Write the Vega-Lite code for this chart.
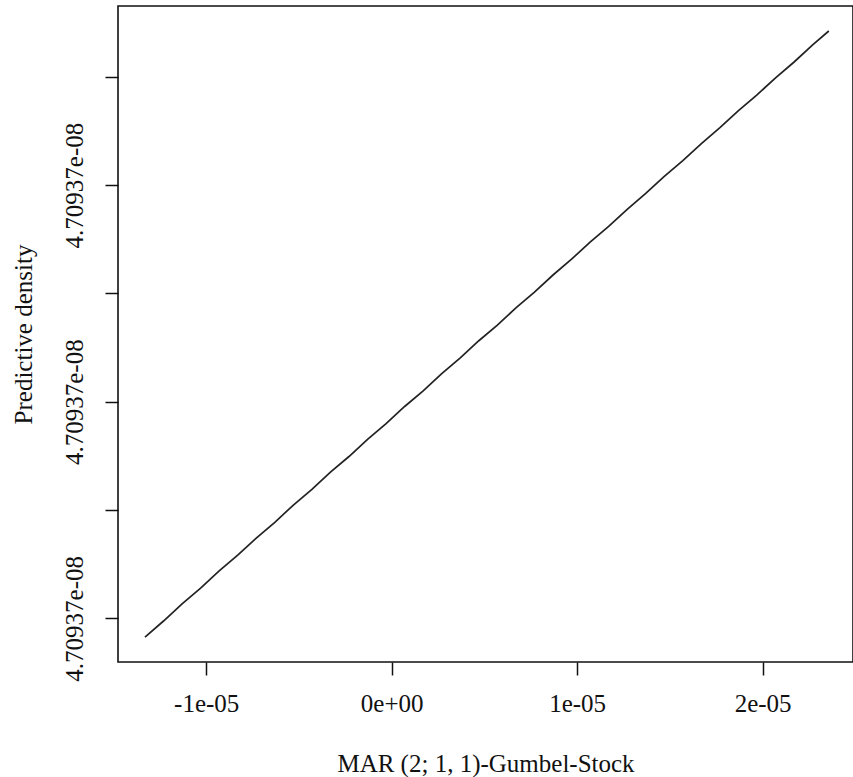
{
  "$schema": "https://vega.github.io/schema/vega-lite/v6.json",
  "width": 735,
  "height": 656,
  "autosize": {"type": "none"},
  "padding": {"left": 118, "top": 6, "right": 0, "bottom": 115},
  "background": "white",
  "config": {
    "font": "Liberation Serif",
    "view": {"stroke": "#111", "strokeWidth": 1.6},
    "axis": {
      "grid": false,
      "domain": false,
      "tickColor": "#111",
      "tickWidth": 1.5,
      "tickSize": 13,
      "labelFont": "Liberation Serif",
      "labelFontSize": 25,
      "labelColor": "#111",
      "titleFont": "Liberation Serif",
      "titleFontSize": 25,
      "titleFontWeight": "normal",
      "titleColor": "#111"
    }
  },
  "data": {
    "values": [
      {"x": -1.33e-05, "density_offset": -0.173},
      {"x": -1.23e-05, "density_offset": -0.025},
      {"x": -1.13e-05, "density_offset": 0.134},
      {"x": -1.03e-05, "density_offset": 0.279},
      {"x": -0.93e-05, "density_offset": 0.437},
      {"x": -0.83e-05, "density_offset": 0.583},
      {"x": -0.73e-05, "density_offset": 0.741},
      {"x": -0.63e-05, "density_offset": 0.886},
      {"x": -0.53e-05, "density_offset": 1.046},
      {"x": -0.43e-05, "density_offset": 1.190},
      {"x": -0.33e-05, "density_offset": 1.349},
      {"x": -0.23e-05, "density_offset": 1.494},
      {"x": -0.13e-05, "density_offset": 1.652},
      {"x": -0.03e-05, "density_offset": 1.798},
      {"x": 0.07e-05, "density_offset": 1.956},
      {"x": 0.17e-05, "density_offset": 2.101},
      {"x": 0.27e-05, "density_offset": 2.259},
      {"x": 0.37e-05, "density_offset": 2.405},
      {"x": 0.47e-05, "density_offset": 2.563},
      {"x": 0.57e-05, "density_offset": 2.708},
      {"x": 0.67e-05, "density_offset": 2.866},
      {"x": 0.77e-05, "density_offset": 3.012},
      {"x": 0.87e-05, "density_offset": 3.170},
      {"x": 0.97e-05, "density_offset": 3.316},
      {"x": 1.07e-05, "density_offset": 3.474},
      {"x": 1.17e-05, "density_offset": 3.619},
      {"x": 1.27e-05, "density_offset": 3.777},
      {"x": 1.37e-05, "density_offset": 3.923},
      {"x": 1.47e-05, "density_offset": 4.081},
      {"x": 1.57e-05, "density_offset": 4.226},
      {"x": 1.67e-05, "density_offset": 4.384},
      {"x": 1.77e-05, "density_offset": 4.530},
      {"x": 1.87e-05, "density_offset": 4.688},
      {"x": 1.97e-05, "density_offset": 4.834},
      {"x": 2.07e-05, "density_offset": 4.991},
      {"x": 2.17e-05, "density_offset": 5.137},
      {"x": 2.27e-05, "density_offset": 5.295},
      {"x": 2.357e-05, "density_offset": 5.423}
    ]
  },
  "mark": {"type": "line", "color": "#222", "strokeWidth": 1.7},
  "encoding": {
    "x": {
      "field": "x",
      "type": "quantitative",
      "scale": {"domain": [-1.4755e-05, 2.4875e-05], "nice": false, "zero": false},
      "axis": {
        "title": "MAR (2; 1, 1)-Gumbel-Stock",
        "values": [-1e-05, 0, 1e-05, 2e-05],
        "labelExpr": "datum.value < -5e-06 ? '-1e-05' : datum.value < 5e-06 ? '0e+00' : datum.value < 1.5e-05 ? '1e-05' : '2e-05'",
        "labelPadding": 16,
        "titlePadding": 35,
        "labelFlush": false
      }
    },
    "y": {
      "field": "density_offset",
      "type": "quantitative",
      "scale": {"domain": [-0.4035, 5.654], "nice": false, "zero": false},
      "axis": {
        "title": "Predictive density",
        "values": [0, 1, 2, 3, 4, 5],
        "labelExpr": "datum.value % 2 == 0 ? '4.70937e-08' : ''",
        "labelAngle": -90,
        "labelAlign": "center",
        "labelBaseline": "bottom",
        "labelPadding": 18,
        "titlePadding": 26,
        "labelFlush": false,
        "labelOverlap": false
      }
    }
  }
}
